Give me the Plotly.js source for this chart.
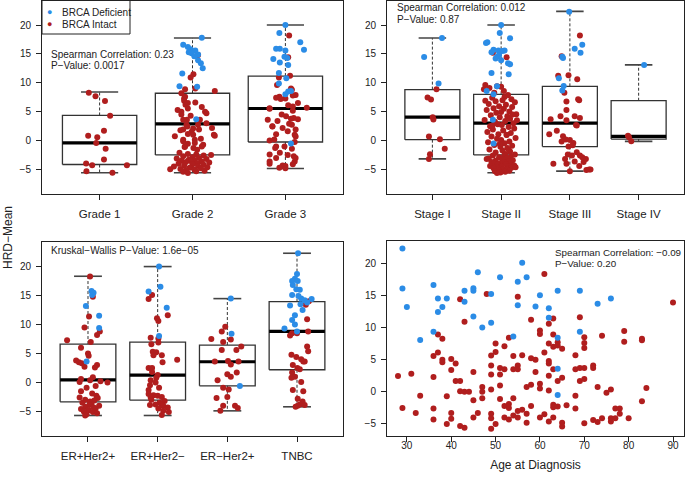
<!DOCTYPE html>
<html><head><meta charset="utf-8">
<script src="https://cdn.plot.ly/plotly-3.0.1.min.js"></script>
<style>html,body{margin:0;padding:0;background:#fff}#chart{width:685px;height:478px}</style>
</head><body><div id="chart"></div>
<script>
// ---------------- DATA ----------------
const gradeLabels = ['Grade 1', 'Grade 2', 'Grade 3'];
const stageLabels = ['Stage I', 'Stage II', 'Stage III', 'Stage IV'];
const subtypeLabels = ['ER+Her2+', 'ER+Her2−', 'ER−Her2+', 'TNBC'];
const yTicks = [-5, 0, 5, 10, 15, 20];
const ageTicks = [30, 40, 50, 60, 70, 80, 90];

// box statistics (lower whisker, Q1, median, Q3, upper whisker)
const gradeLo  = [-5.57, -5.57, -4.83];
const gradeQ1  = [-4.14, -2.48, -0.24];
const gradeMed = [-0.41, 2.91, 5.55];
const gradeQ3  = [4.35, 8.19, 11.17];
const gradeHi  = [8.42, 17.76, 20.0];

const stageLo  = [-3.17, -5.57, -5.29, -0.13];
const stageQ1  = [0.16, -2.48, -1.04, 0.27];
const stageMed = [4.06, 3.03, 3.03, 0.73];
const stageQ3  = [8.82, 8.0, 9.39, 6.9];
const stageHi  = [17.76, 20.0, 22.35, 13.1];

const subLo  = [-5.7, -5.7, -4.9, -4.2];
const subQ1  = [-3.34, -3.05, -0.58, 2.19];
const subMed = [0.46, 1.27, 3.57, 8.82];
const subQ3  = [6.63, 6.97, 6.46, 13.95];
const subHi  = [18.33, 20.0, 14.47, 22.3];

// ---- Grade panel points (value, jitter) ----
const grade1RedY = [8.30, 7.67, 6.87, 4.29, 1.71, 0.85, 0.56, -0.41, -1.39, -3.28, -3.97, -4.25, -4.25, -5.29, -5.57];
const grade1RedJ = [-0.116, -0.044, 0.058, 0.113, 0.047, -0.123, -0.025, -0.036, 0.065, 0.047, -0.145, -0.08, 0.294, -0.142, 0.138];
const grade1BlueY = [];
const grade1BlueJ = [];

const grade2BlueY = [17.8, 16.6, 16.2, 15.8, 15.6, 15.3, 15.1, 14.9, 14.6, 13.9, 13.4, 12.5, 11.6, 9.4, 9.3, 3.7];
const grade2BlueJ = [0.10, -0.10, -0.05, -0.02, 0.03, -0.04, -0.01, 0.06, 0.02, 0.06, 0.09, 0.11, -0.11, -0.14, 0.05, 0.04];
const grade2RedY = [14.8, 11.5, 10.9, 9.0, 8.9, 8.6, 8.2, 7.6, 7.3, 6.9, 6.6, 6.5, 6.2, 5.8, 5.55, 5.3, 5.0, 5.0, 4.75, 4.5,
  4.3, 3.6, 3.6, 3.6, 3.0, 2.75, 2.75, 2.45, 2.2, 2.1, 1.9, 1.9, 1.8, 1.55, 1.15, 1.0, 1.0, 0.85, 0.75, 0.3,
  0.16, 0.16, -0.1, -0.4, -0.55, -0.7, -1.0, -1.0, -1.1, -1.3, -1.6, -2.1, -2.3, -2.4, -2.5, -2.6, -2.7, -2.9, -3.0, -3.1,
  -3.2, -3.3, -3.4, -3.5, -3.55, -3.6, -3.7, -3.8, -3.9, -4.0, -4.1, -4.2, -4.3, -4.4, -4.5, -4.6, -4.7, -4.8, -4.9, -4.95,
  -5.0, -5.1, -5.2, -5.3, -5.4, -5.6];
const grade2RedJ = [0.06, 0.01, -0.02, 0.03, -0.08, 0.24, -0.12, -0.08, -0.09, -0.09,
  0.03, -0.05, -0.075, 0.10, -0.05, -0.16, 0.135, -0.12, 0.15, -0.12,
  -0.02, -0.10, 0.08, -0.06, 0.15, 0.06, -0.065, -0.055, 0.21, 0.007,
  -0.10, 0.07, -0.13, -0.01, -0.05, 0.23, 0.007, 0.24, -0.19, 0.09,
  0.025, -0.10, -0.10, 0.025, -0.05, 0.115, -0.08, 0.10, -0.085, 0.01,
  0.05, -0.14, -0.05, 0.04, 0.20, 0.12, -0.10, 0.0, 0.07, -0.17,
  0.15, -0.04, 0.02, -0.12, -0.02, 0.10, -0.07, 0.18, 0.05, -0.15,
  0.0, 0.12, -0.09, 0.06, -0.20, 0.16, -0.03, 0.09, -0.13, -0.24,
  0.02, -0.07, 0.13, 0.04, -0.10, -0.05];

const grade3BlueY = [20.0, 18.6, 17.0, 15.7, 15.9, 15.9, 15.6, 14.1, 14.5, 14.3, 13.5, 13.1, 11.7, 10.8, 9.9, 8.6, 8.5, 8.0, -0.5];
const grade3BlueJ = [0.0, -0.065, 0.16, 0.20, -0.10, -0.06, 0.0, -0.13, -0.01, 0.02, -0.06, 0.03, -0.07, 0.01, -0.07, 0.06, 0.03, 0.0, 0.06];
const grade3RedY = [18.2, 14.4, 11.2, 10.9, 9.6, 9.0, 8.8, 7.9, 7.8, 7.6, 7.4, 7.3, 7.2, 6.5, 6.1, 5.9, 5.7, 5.6, 5.5, 5.15,
  4.5, 4.2, 3.9, 3.8, 3.7, 3.6, 3.4, 2.9, 2.75, 2.5, 2.45, 2.2, 1.9, 1.6, 1.1, 1.0, 0.7, 0.2, 0.0, -0.25,
  -1.0, -1.0, -1.3, -1.4, -2.1, -2.4, -2.5, -2.7, -3.0, -3.0, -3.6, -3.6, -4.0, -4.1, -4.3, -4.4, -4.5, -4.7, -4.8];
const grade3RedJ = [0.04, 0.03, 0.05, -0.07, -0.09, 0.06, 0.07, 0.11, 0.08, -0.065,
  -0.10, 0.0, -0.05, 0.135, 0.03, 0.08, 0.23, -0.17, -0.17, 0.08,
  -0.04, 0.007, 0.09, 0.06, 0.135, -0.19, -0.085, 0.04, 0.07, -0.14,
  -0.14, -0.03, 0.11, 0.025, -0.10, 0.10, 0.11, -0.12, -0.17, 0.10,
  -0.01, -0.10, -0.11, 0.07, -0.06, -0.17, 0.025, 0.09, -0.10, 0.11,
  -0.17, 0.10, -0.17, 0.08, -0.03, 0.0, -0.01, -0.065, 0.0];

// ---- Stage panel points ----
const stage1BlueY = [17.76, 14.45, 9.9];
const stage1BlueJ = [0.14, -0.12, 0.09];
const stage1RedY = [8.9, 7.45, 7.1, 4.05, 3.65, 0.7, 0.25, -1.4, -2.35, -3.2];
const stage1RedJ = [0.06, -0.07, -0.02, 0.005, 0.015, -0.05, 0.11, 0.18, -0.035, -0.05];

const stage2BlueY = [20.0, 18.6, 17.7, 17.0, 16.9, 15.7, 15.6, 15.6, 15.5, 15.3, 14.8, 14.5, 14.2, 13.9, 13.4, 13.2, 11.7, 11.5, 9.4, 8.6, 8.0, 3.6, -0.5];
const stage2BlueJ = [0.0, -0.02, 0.13, -0.2, -0.22, -0.11, -0.04, 0.05, 0.02, -0.14, -0.03, -0.06, -0.08, 0.0, 0.10, 0.13, -0.14, 0.11, -0.06, -0.21, -0.11, -0.12, -0.11];
const stage2RedY = [15.2, 14.4, 9.6, 9.4, 9.3, 9.1, 8.9, 8.6, 8.3,
  7.9, 7.55, 7.4, 7.15, 7.0, 6.8, 6.65, 6.35, 6.2, 5.95, 5.8, 5.6, 5.5, 5.3, 5.05, 4.95, 4.8, 4.55, 4.4, 4.2,
  4.05, 3.8, 3.55, 3.4, 3.25, 3.0, 2.85, 2.7, 2.5, 2.35, 2.1, 1.9, 1.75, 1.5, 1.3, 1.1, 0.95, 0.7, 0.45, 0.3,
  0.1, -0.15, -0.3, -0.45, -0.75, -0.9, -1.05, -1.3, -1.55, -1.7, -1.9, -2.05, -2.3, 6.9, 4.5, 3.5, 2.6, 1.0, -0.6, -1.6,
  -2.5, -2.6, -2.8, -2.9, -3.0, -3.1, -3.3, -3.4, -3.5, -3.6, -3.7, -3.8, -3.9, -4.0, -4.0, -4.1, -4.2, -4.3, -4.4, -4.5,
  -4.5, -4.6, -4.7, -4.8, -4.9, -5.0, -5.1, -5.2, -5.3, -5.4, -5.5, -5.6, -3.2, -4.6, -2.4];
const stage2RedJ = [-0.12, 0.08, -0.23, -0.06, 0.0, -0.17, -0.25, 0.04, -0.1,
  0.10, 0.05, -0.13, 0.15, 0.02, -0.08, 0.20, -0.18, 0.07, -0.03, 0.16, -0.11, 0.04, -0.21, 0.12, 0.0, -0.07, 0.22, -0.15, 0.09,
  -0.02, 0.13, -0.24, 0.06, -0.09, 0.18, -0.05, 0.01, -0.16, 0.11, 0.19, -0.12, 0.03, -0.20, 0.14, -0.04, 0.08, -0.14, 0.21, -0.06,
  0.0, 0.12, -0.19, 0.05, -0.10, 0.16, -0.01, 0.09, -0.17, 0.02, 0.13, -0.08, 0.06, -0.23, 0.17, 0.23, -0.13, 0.08, -0.02, 0.11,
  0.05, -0.12, 0.14, -0.03, 0.09, -0.18, 0.02, 0.17, -0.08, 0.11, -0.14, 0.04, -0.02, 0.13, -0.10, 0.07, -0.05, 0.19, -0.16, 0.0,
  0.10, -0.07, 0.15, -0.11, 0.03, 0.08, -0.04, 0.12, -0.09, 0.06, -0.01, -0.06, -0.21, 0.21, 0.2];

const stage3BlueY = [22.3, 16.6, 15.9, 15.2, 14.5, 14.3, 10.8, 9.45, 8.65];
const stage3BlueJ = [-0.01, 0.18, 0.07, 0.155, -0.11, -0.1, -0.16, -0.09, -0.11];
const stage3RedY = [18.2, 14.6, 11.2, 11.3, 10.6, 8.3, 7.15, 7.0, 6.75, 5.3, 4.2, 4.2, 3.9, 3.5, 3.7, 2.7, 2.6, 1.7, 1.1, 0.75,
  0.2, 0.1, -0.4, -0.15, -1.0, -0.8, -2.4, -2.6, -2.0, -2.6, -3.2, -3.6, -3.2, -4.0, -4.0, -4.4, -5.0, -5.0, -5.1, -5.3, -2.9, -3.7];
const stage3RedJ = [0.146, -0.12, -0.17, -0.02, 0.107, -0.08, 0.12, 0.135, -0.05, -0.05, -0.136, 0.07, 0.146, -0.05, -0.28, 0.09, 0.1, -0.19, -0.3, -0.1,
  -0.06, 0.0, 0.05, -0.12, -0.02, 0.04, -0.03, 0.03, 0.1, 0.146, -0.07, 0.07, 0.233, -0.24, -0.05, 0.136, 0.28, 0.3, 0.24, 0.0, 0.18, 0.2];

const stage4BlueY = [13.1];
const stage4BlueJ = [0.08];
const stage4RedY = [0.86, 0.6, -0.13];
const stage4RedJ = [-0.155, -0.14, -0.107];

// ---- Subtype panel points ----
const erpHerpBlueY = [15.8, 15.5, 15.1, 13.2, 11.5, 9.4, 3.6];
const erpHerpBlueJ = [0.05, 0.08, 0.06, -0.03, 0.16, 0.16, -0.02];
const erpHerpRedY = [18.3, 14.8, 11.4, 9.5, 8.8, 8.2, 7.3, 7.0, 6.0, 5.0, 4.6, 3.8, 3.5, 3.3, 3.0, 2.7, 2.6, 0.9, 0.6, 0.4,
  0.2, 0.1, 0.0, -0.6, -0.9, -1.5, -1.9, -2.3, -2.6, -2.7, -3.0, -3.1, -3.3, -3.5, -3.7, -3.9, -4.0, -4.2, -4.3, -4.5,
  -4.6, -4.8, -5.0, -5.1, -5.3, -5.5, -5.7];
const erpHerpRedJ = [0.03, 0.07, 0.015, -0.05, 0.17, 0.13, -0.30, 0.04, -0.10, 0.0, 0.01, -0.17, -0.13, -0.09, 0.13, -0.05, 0.1, 0.07, -0.1, 0.03,
  0.18, -0.12, 0.28, 0.11, -0.02, -0.1, 0.06, 0.12, -0.12, 0.14, -0.04, 0.09, 0.03, -0.08, 0.05, 0.02, 0.16, -0.04, 0.08, 0.11,
  -0.1, 0.01, -0.06, 0.07, 0.13, -0.02, -0.04];

const erpHermBlueY = [20.0, 16.5, 15.7, 12.9, 8.0];
const erpHermBlueJ = [0.02, 0.04, -0.13, 0.13, 0.02];
const erpHermRedY = [15.1, 14.4, 11.6, 11.1, 10.6, 7.7, 7.6, 6.9, 6.6, 5.3, 5.2, 4.7, 4.7, 3.9, 3.5, 2.5, 2.5, 1.3, 0.8, 0.4,
  0.0, -0.5, -0.9, -1.3, -2.2, -2.3, -2.5, -2.6, -3.0, -3.2, -3.5, -3.8, -3.8, -3.9, -4.0, -4.3, -4.5, -4.9, -5.1, -5.6, -2.0, 1.8];
const erpHermRedJ = [-0.08, -0.13, 0.145, -0.01, 0.01, -0.10, 0.01, 0.01, -0.09, -0.07, -0.02, -0.06, 0.06, 0.28, 0.07, -0.13, -0.08, 0.0, -0.02, -0.10,
  -0.03, -0.11, 0.02, -0.13, -0.06, 0.0, 0.06, -0.10, -0.09, 0.10, 0.03, -0.03, 0.06, -0.11, 0.08, 0.145, 0.01, 0.08, 0.16, 0.06, -0.13, -0.08];

const ermHerpBlueY = [14.5, 8.4, -0.6];
const ermHerpBlueJ = [0.05, 0.06, 0.18];
const ermHerpRedY = [9.6, 8.8, 7.5, 7.4, 7.0, 6.2, 5.6, 5.6, 3.7, 3.6, 3.6, 3.1, 1.7, 1.4, 1.0, 0.4, -0.9, -1.2, -2.5, -2.7, -4.0, -4.0, -4.4, -4.9];
const ermHerpRedJ = [-0.03, -0.08, -0.23, 0.05, -0.06, 0.20, -0.08, 0.13, 0.01, -0.18, 0.16, 0.05, 0.135, 0.0, 0.05, -0.14, -0.06, 0.02, 0.0, -0.155, -0.06, 0.11, 0.15, -0.10];

const tnbcBlueY = [22.3, 18.7, 17.9, 17.5, 17.5, 16.8, 16.1, 16.0, 15.1, 14.5, 14.2, 14.4, 13.8, 13.3, 12.5, 11.6, 10.8, 10.0, 9.3, 8.8, 14.9, 13.5];
const tnbcBlueJ = [0.015, 0.0, -0.03, 0.01, -0.07, -0.06, -0.01, 0.04, -0.07, 0.06, 0.11, 0.21, 0.145, -0.10, 0.08, -0.03, -0.07, -0.03, -0.18, 0.0, 0.02, 0.05];
const tnbcRedY = [14.0, 13.4, 10.9, 8.8, 8.5, 8.5, 8.1, 6.2, 5.4, 4.8, 4.4, 4.0, 3.6, 3.6, 3.0, 2.5, 2.3, 1.7, 1.0, 0.8, 0.1, -1.3, -1.5, -2.8, -3.3, -3.8, -3.9, -4.0, -4.2];
const tnbcRedJ = [0.17, 0.126, 0.145, 0.16, -0.07, 0.0, -0.10, 0.145, 0.16, -0.08, -0.01, 0.06, 0.11, 0.09, -0.06, 0.005, 0.04, -0.07, -0.03, -0.08, 0.06, -0.06, 0.09, 0.01, 0.08, 0.04, 0.11, 0.01, -0.02];

// ---- Age panel ----
const ageBlue = [29, 29, 30, 33, 36, 37, 37, 38, 39, 36, 43, 43, 45, 45, 45, 46, 47, 49, 49, 51, 54, 55, 55, 56, 57, 59, 60, 62, 62, 64, 64, 64, 64, 69, 69, 73, 76];
const hrdBlue = [22.3, 16.05, 13.2, 8.05, 16.6, 14.5, 12.4, 13.2, 14.5, 9.35, 15.7, 14.0, 16.1, 15.7, 11.7, 18.6, 10.0, 15.2, 10.75, 17.8, 8.6, 17.1, 13.45, 20.05, 17.8, 13.25, 15.0, 13.0, 11.5, 15.7, 8.4, 3.6, -0.5, 15.7, 9.35, 13.7, 14.5];
const ageRed = [28, 29, 31, 32, 33, 36, 36, 36, 36, 37, 37, 38, 38, 38, 39, 39, 40, 40, 40, 40,
  41, 41, 42, 42, 42, 42, 43, 43, 43, 44, 45, 45, 45, 46, 47, 47, 47, 48, 49, 49,
  49, 49, 49, 49, 49, 50, 50, 50, 51, 51, 51, 51, 52, 52, 52, 52, 53, 53, 53, 53,
  54, 54, 54, 54, 55, 55, 55, 55, 55, 56, 56, 57, 57, 57, 58, 58, 58, 58, 59, 59,
  60, 60, 60, 60, 60, 61, 61, 61, 62, 62, 62, 62, 62, 62, 62, 63, 63, 63, 63, 63,
  63, 63, 64, 64, 64, 64, 65, 65, 65, 65, 66, 68, 68, 68, 68, 69, 69, 69, 70, 70,
  70, 70, 70, 70, 72, 72, 72, 73, 73, 74, 74, 75, 76, 76, 76, 77, 77, 78, 78, 79,
  79, 80, 83, 83, 83, 84, 90];
const hrdRed = [2.45, -2.5, 2.8, -3.3, -0.6, 5.55, 2.3, -2.6, -4.3, 8.9, 6.1, 8.25, 5.0, 4.6, -0.7, -5.0, 5.1, 3.4, -3.3, -4.2,
  4.4, 1.7, 1.7, 0.1, -5.3, 14.4, 10.9, 0.0, -5.6, 0.0, 3.1, -1.3, -4.0, -3.3, 0.75, 0.0, -1.0, 15.2, 5.65, 4.1,
  2.7, 0.35, -3.4, -4.1, -5.75, 6.2, 7.5, -5.0, 3.7, 2.7, 1.0, -1.1, 7.1, 3.5, -2.2, -4.0, 8.4, -1.9, -2.5, -4.3,
  5.55, 3.5, -1.0, -3.7, 14.8, 4.1, 3.5, -3.0, -4.0, 5.7, -2.8, 0.75, -3.4, -4.8, 11.2, 5.2, 1.1, -2.2, 5.0, 3.1,
  9.55, 9.0, 1.25, 0.5, -4.0, 18.3, 6.1, -3.5, 10.6, 7.5, 4.8, 4.4, 2.5, 0.2, -4.6, 11.4, 8.9, 7.0, 3.5, -2.0,
  -2.4, -4.0, 7.7, 7.2, 1.7, -2.3, 6.7, 2.2, -4.8, -5.4, -2.1, 5.7, 3.5, -0.6, -2.6, 11.6, 3.7, 1.7, 8.5, 7.6,
  6.8, 3.7, 2.0, -4.9, 4.1, 3.7, -4.4, 0.75, -4.7, 8.7, -4.1, -0.15, 0.35, -4.1, -4.6, -2.6, -4.1, -2.6, -3.4, 9.45,
  7.8, -4.1, 8.25, 8.0, -1.45, 0.6, 13.9];

// ---------------- DRAWING ----------------
const BLUE = '#2b8ce6', RED = '#b01e1e';
const FONT = 'Liberation Sans, Arial, Helvetica, sans-serif';
const W = 685, H = 478;
const fx = p => p / W, fy = p => 1 - p / H;
const HALF = 0.4, CAP = 0.2;

const traces = [];

function addBoxes(xa, ya, lo, q1, med, q3, hi) {
  const rx = [], ry = [], wx = [], wy = [], cx = [], cy = [], mx = [], my = [];
  for (let i = 0; i < q1.length; i++) {
    const c = i + 1;
    rx.push(c - HALF, c + HALF, c + HALF, c - HALF, c - HALF, null);
    ry.push(q1[i], q1[i], q3[i], q3[i], q1[i], null);
    wx.push(c, c, null, c, c, null);
    wy.push(q3[i], hi[i], null, q1[i], lo[i], null);
    cx.push(c - CAP, c + CAP, null, c - CAP, c + CAP, null);
    cy.push(hi[i], hi[i], null, lo[i], lo[i], null);
    mx.push(c - HALF, c + HALF, null);
    my.push(med[i], med[i], null);
  }
  const base = {type: 'scatter', mode: 'lines', xaxis: xa, yaxis: ya, showlegend: false, hoverinfo: 'skip'};
  traces.push(Object.assign({}, base, {x: wx, y: wy, line: {color: '#333', width: 1, dash: '3px,2px'}}));
  traces.push(Object.assign({}, base, {x: cx, y: cy, line: {color: '#444', width: 1.6}}));
  traces.push(Object.assign({}, base, {x: rx, y: ry, line: {color: '#333', width: 1.3}}));
  traces.push(Object.assign({}, base, {x: mx, y: my, line: {color: '#000', width: 3.2}}));
}

function addPoints(xa, ya, groups, color, name) {
  const xs = [], ys = [];
  groups.forEach((g, gi) => {
    const n = Math.min(g[0].length, g[1].length);
    for (let i = 0; i < n; i++) { xs.push(gi + 1 + g[1][i]); ys.push(g[0][i]); }
  });
  traces.push({type: 'scatter', mode: 'markers', x: xs, y: ys, xaxis: xa, yaxis: ya, name: name,
    showlegend: false, marker: {color: color, size: 6, line: {width: 0}}});
}

// Panel 1: grade
addBoxes('x', 'y', gradeLo, gradeQ1, gradeMed, gradeQ3, gradeHi);
addPoints('x', 'y', [[grade1RedY, grade1RedJ], [grade2RedY, grade2RedJ], [grade3RedY, grade3RedJ]], RED, 'BRCA Intact');
addPoints('x', 'y', [[grade1BlueY, grade1BlueJ], [grade2BlueY, grade2BlueJ], [grade3BlueY, grade3BlueJ]], BLUE, 'BRCA Deficient');
// Panel 2: stage
addBoxes('x2', 'y2', stageLo, stageQ1, stageMed, stageQ3, stageHi);
addPoints('x2', 'y2', [[stage1RedY, stage1RedJ], [stage2RedY, stage2RedJ], [stage3RedY, stage3RedJ], [stage4RedY, stage4RedJ]], RED, 'BRCA Intact');
addPoints('x2', 'y2', [[stage1BlueY, stage1BlueJ], [stage2BlueY, stage2BlueJ], [stage3BlueY, stage3BlueJ], [stage4BlueY, stage4BlueJ]], BLUE, 'BRCA Deficient');
// Panel 3: subtype
addBoxes('x3', 'y3', subLo, subQ1, subMed, subQ3, subHi);
addPoints('x3', 'y3', [[erpHerpRedY, erpHerpRedJ], [erpHermRedY, erpHermRedJ], [ermHerpRedY, ermHerpRedJ], [tnbcRedY, tnbcRedJ]], RED, 'BRCA Intact');
addPoints('x3', 'y3', [[erpHerpBlueY, erpHerpBlueJ], [erpHermBlueY, erpHermBlueJ], [ermHerpBlueY, ermHerpBlueJ], [tnbcBlueY, tnbcBlueJ]], BLUE, 'BRCA Deficient');
// Panel 4: age scatter
traces.push({type: 'scatter', mode: 'markers', x: ageRed, y: hrdRed, xaxis: 'x4', yaxis: 'y4', name: 'BRCA Intact', showlegend: false, marker: {color: RED, size: 6}});
traces.push({type: 'scatter', mode: 'markers', x: ageBlue, y: hrdBlue, xaxis: 'x4', yaxis: 'y4', name: 'BRCA Deficient', showlegend: false, marker: {color: BLUE, size: 6}});

const common = {ticks: 'outside', ticklen: 5, tickwidth: 1, tickcolor: '#222', showline: true, mirror: true,
  linecolor: '#222', linewidth: 1, showgrid: false, zeroline: false, fixedrange: true};
function yAx(top, bottom, range, anchor) {
  return Object.assign({}, common, {domain: [fy(bottom), fy(top)], range: range, anchor: anchor,
    tickmode: 'array', tickvals: yTicks, tickfont: {size: 10, color: '#222'}, ticklabelstandoff: 3});
}
function xCat(left, right, range, anchor, labels) {
  return Object.assign({}, common, {domain: [fx(left), fx(right)], range: range, anchor: anchor,
    tickmode: 'array', tickvals: labels.map((_, i) => i + 1), ticktext: labels,
    tickfont: {size: 11.5, color: '#222'}, ticklabelstandoff: 4});
}

const YR = [-9.24, 24.24];
const layout = {
  width: W, height: H, margin: {l: 0, r: 0, t: 0, b: 0}, paper_bgcolor: '#fff', plot_bgcolor: '#fff',
  font: {family: FONT, color: '#222'}, showlegend: false,
  xaxis: xCat(42, 343, [0.38, 3.62], 'y', gradeLabels),
  yaxis: yAx(0.5, 194, YR, 'x'),
  xaxis2: xCat(387, 684, [0.34, 4.66], 'y2', stageLabels),
  yaxis2: yAx(0.5, 194, YR, 'x2'),
  xaxis3: xCat(42, 343, [0.34, 4.66], 'y3', subtypeLabels),
  yaxis3: yAx(242, 436, YR, 'x3'),
  xaxis4: Object.assign({}, common, {domain: [fx(387), fx(684)], range: [25.52, 92.48], anchor: 'y4',
    tickmode: 'array', tickvals: ageTicks, tickfont: {size: 10, color: '#222'}, ticklabelstandoff: -5,
    title: {text: 'Age at Diagnosis', font: {size: 12, color: '#222'}, standoff: 10}}),
  yaxis4: yAx(241, 436, [-6.87, 23.45], 'x4'),
  shapes: [
    {type: 'rect', xref: 'paper', yref: 'paper', x0: fx(42), x1: fx(130), y0: fy(34), y1: fy(0.5),
     line: {color: '#222', width: 1}, fillcolor: '#fff', layer: 'above'}
  ],
  annotations: [
    {text: '●', x: fx(50), y: fy(12), font: {size: 9, color: BLUE}},
    {text: 'BRCA Deficient', x: fx(60), y: fy(12.5), xanchor: 'left', font: {size: 10}},
    {text: '●', x: fx(50), y: fy(23.5), font: {size: 9, color: RED}},
    {text: 'BRCA Intact', x: fx(60), y: fy(24), xanchor: 'left', font: {size: 10}},
    {text: 'Spearman Correlation: 0.23', x: fx(49), y: fy(54), xanchor: 'left', font: {size: 10}},
    {text: 'P−Value: 0.0017', x: fx(49), y: fy(66), xanchor: 'left', font: {size: 10}},
    {text: 'Spearman Correlation: 0.012', x: fx(395), y: fy(7.5), xanchor: 'left', font: {size: 10}},
    {text: 'P−Value: 0.87', x: fx(395), y: fy(19.5), xanchor: 'left', font: {size: 10}},
    {text: 'Kruskal−Wallis P−Value: 1.6e−05', x: fx(49), y: fy(250), xanchor: 'left', font: {size: 10}},
    {text: 'Spearman Correlation: −0.09', x: fx(553), y: fy(252), xanchor: 'left', font: {size: 9.8}},
    {text: 'P−Value: 0.20', x: fx(553), y: fy(263.5), xanchor: 'left', font: {size: 9.8}},
    {text: 'HRD−Mean', x: fx(8), y: fy(238), textangle: -90, font: {size: 12}}
  ].map(a => Object.assign({xref: 'paper', yref: 'paper', showarrow: false, yanchor: 'middle', xanchor: 'center'}, a, {font: Object.assign({family: FONT, color: '#222'}, a.font)}))
};

Plotly.newPlot('chart', traces, layout, {displayModeBar: false, staticPlot: true});
</script></body></html>
